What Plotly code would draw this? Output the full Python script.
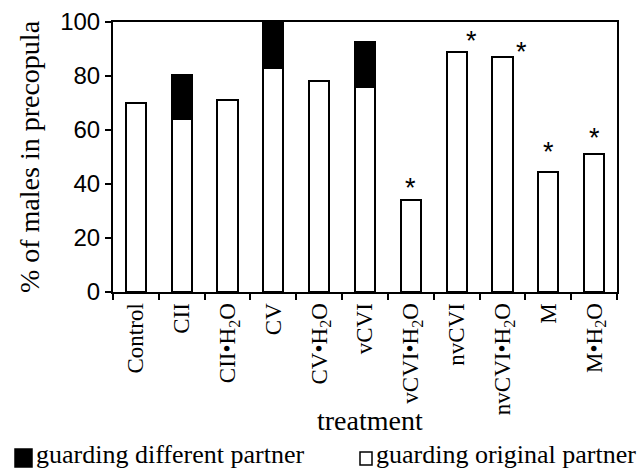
import plotly.graph_objects as go

# ---- data ----
categories = ["Control", "CII", "CII•H<sub>2</sub>O", "CV", "CV•H<sub>2</sub>O", "vCVI",
              "vCVI•H<sub>2</sub>O", "nvCVI", "nvCVI•H<sub>2</sub>O", "M", "M•H<sub>2</sub>O"]
original_partner = [70, 64, 71, 83, 78, 76, 34, 89, 87, 44.5, 51]
different_partner = [0, 16.5, 0, 17, 0, 16.5, 0, 0, 0, 0, 0]
significance = ["", "", "", "", "", "", "*", "*", "*", "*", "*"]
series_names = ["guarding different partner", "guarding original partner"]
series_fills = ["black", "white"]
# annotation placement for the asterisks (y in axis units, x shift in px)
sig_y = [None, None, None, None, None, None, 38.5, 93, 89, 52, 57]
sig_xshift = [0, 0, 0, 0, 0, 0, 0, 15, 19, 0, 0]

serif = "Liberation Serif"
sans = "Liberation Sans"

W, H = 644, 471
ML, MR, MT, MB = 113, 27, 22, 179
PW, PH = W - ML - MR, H - MT - MB


def px_x(p):
    return (p - ML) / PW


def px_y(p):
    return (H - MB - p) / PH


fig = go.Figure()
fig.add_trace(go.Bar(x=categories, y=original_partner, name=series_names[1],
                     marker=dict(color=series_fills[1], line=dict(color="black", width=2)),
                     width=0.44, showlegend=False))
fig.add_trace(go.Bar(x=categories, y=different_partner, name=series_names[0],
                     marker=dict(color=series_fills[0], line=dict(color="black", width=2)),
                     width=0.44, showlegend=False))

for cat, s, yy, xs in zip(categories, significance, sig_y, sig_xshift):
    if s:
        fig.add_annotation(x=cat, y=yy, text=s, showarrow=False, xshift=xs,
                           yanchor="middle", font=dict(family=sans, size=27, color="black"))

# x-axis title
fig.add_annotation(xref="paper", yref="paper", x=px_x(370), y=px_y(420), text="treatment",
                   showarrow=False, xanchor="center", yanchor="middle",
                   font=dict(family=serif, size=28, color="black"))

# legend drawn below the chart: swatch + label
swatch_boxes = [(15, 449, 32, 467), (360, 452, 372, 465)]
text_x = [34, 374]
for (x0, y0, x1, y1), fill, tx, name in zip(swatch_boxes, series_fills, text_x, series_names):
    fig.add_shape(type="rect", xref="paper", yref="paper",
                  x0=px_x(x0), x1=px_x(x1), y0=px_y(y1), y1=px_y(y0),
                  fillcolor=fill, line=dict(color="black", width=1.5))
    fig.add_annotation(xref="paper", yref="paper", x=px_x(tx), y=px_y(454), xanchor="left",
                       yanchor="middle", showarrow=False, text=name,
                       font=dict(family=serif, size=26, color="black"))

n = len(categories)
boundaries = [i - 0.5 for i in range(n + 1)]

fig.update_layout(
    width=W, height=H,
    margin=dict(l=ML, r=MR, t=MT, b=MB),
    paper_bgcolor="white", plot_bgcolor="white",
    barmode="stack",
    showlegend=False,
    xaxis=dict(type="category", categoryorder="array", categoryarray=categories,
               tickson="boundaries", ticks="outside", ticklen=6, tickwidth=2, tickcolor="black",
               showline=True, linewidth=2, linecolor="black", mirror=True,
               tickangle=-90, tickfont=dict(family=serif, size=23, color="black"),
               showgrid=False, automargin=False),
    xaxis2=dict(overlaying="x", anchor="y", range=[-0.5, n - 0.5], tickvals=boundaries,
                ticks="inside", ticklen=6, tickwidth=2, tickcolor="black",
                showticklabels=False, showgrid=False, zeroline=False, showline=False),
    yaxis=dict(range=[0, 100], dtick=20, ticks="outside", ticklen=6, tickwidth=2,
               tickcolor="black", showline=True, linewidth=2, linecolor="black", mirror=True,
               tickfont=dict(family=sans, size=24, color="black"),
               title=dict(text="% of males in precopula",
                          font=dict(family=serif, size=28, color="black"), standoff=12),
               showgrid=False, zeroline=False, automargin=False),
    yaxis2=dict(overlaying="y", anchor="x", side="left", range=[0, 100], dtick=20,
                ticks="inside", ticklen=6, tickwidth=2, tickcolor="black",
                showticklabels=False, showgrid=False, zeroline=False, showline=False),
)

fig.write_html("out.html")
